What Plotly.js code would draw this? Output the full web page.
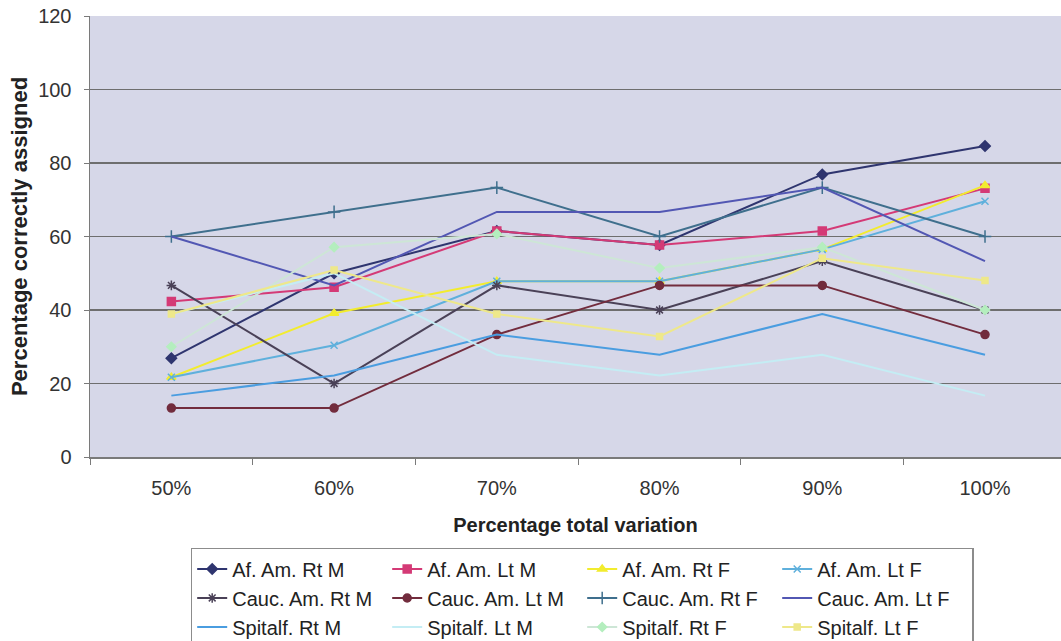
<!DOCTYPE html>
<html>
<head>
<meta charset="utf-8">
<script src="https://cdn.plot.ly/plotly-3.0.1.min.js"></script>
<style>
html,body{margin:0;padding:0;background:#fff;}
#chart{width:1061px;height:641px;}
</style>
</head>
<body>
<div id="chart"></div>
<script>
const categories = ['50%', '60%', '70%', '80%', '90%', '100%'];
const seriesNames = ['Af. Am. Rt M', 'Af. Am. Lt M', 'Af. Am. Rt F', 'Af. Am. Lt F',
  'Cauc. Am. Rt M', 'Cauc. Am. Lt M', 'Cauc. Am. Rt F', 'Cauc. Am. Lt F',
  'Spitalf. Rt M', 'Spitalf. Lt M', 'Spitalf. Rt F', 'Spitalf. Lt F'];
const afAmRtM = [26.9, 50.0, 61.5, 57.7, 76.9, 84.6];
const afAmLtM = [42.3, 46.2, 61.5, 57.7, 61.5, 73.1];
const afAmRtF = [21.7, 39.1, 47.8, 47.8, 56.5, 73.9];
const afAmLtF = [21.7, 30.4, 47.8, 47.8, 56.5, 69.6];
const caucRtM = [46.7, 20.0, 46.7, 40.0, 53.3, 40.0];
const caucLtM = [13.3, 13.3, 33.3, 46.7, 46.7, 33.3];
const caucRtF = [60.0, 66.7, 73.3, 60.0, 73.3, 60.0];
const caucLtF = [60.0, 46.7, 66.7, 66.7, 73.3, 53.3];
const spitRtM = [16.7, 22.2, 33.3, 27.8, 38.9, 27.8];
const spitLtM = [38.9, 50.0, 27.8, 22.2, 27.8, 16.7];
const spitRtF = [30.0, 57.1, 60.7, 51.4, 57.1, 40.0];
const spitLtF = [38.9, 50.9, 38.9, 32.8, 54.1, 48.0];
const yTicks = [0, 20, 40, 60, 80, 100, 120];

const allValues = [afAmRtM, afAmLtM, afAmRtF, afAmLtF, caucRtM, caucLtM,
  caucRtF, caucLtF, spitRtM, spitLtM, spitRtF, spitLtF];
const colors = ['#2f356f', '#d43a76', '#f2ec2e', '#5fb0dc', '#4a4157', '#722c3d',
  '#3f6f8d', '#5257b3', '#4a9de0', '#c2eef5', '#b4eebe', '#eee88a'];
const lineColors = ['#2f356f', '#d43a76', '#f2ec2e', '#5fb0dc', '#4a4157', '#722c3d',
  '#3f6f8d', '#5257b3', '#4a9de0', '#c4edf4', '#cde6d6', '#eee88a'];
const symbols = ['diamond', 'square', 'triangle-up', 'x-thin-open', 'asterisk-open', 'circle',
  'cross-thin-open', 'line-ew-open', 'line-ew-open', 'line-ew-open', 'diamond', 'square'];
const msizes = [8, 8, 8, 7, 8, 8, 9, 1, 1, 1, 7, 6];

const traces = allValues.map((vals, i) => ({
  type: 'scatter',
  mode: msizes[i] > 1 ? 'lines+markers' : 'lines',
  name: seriesNames[i],
  x: categories,
  y: vals,
  line: {color: lineColors[i], width: 2},
  marker: {symbol: symbols[i], size: msizes[i], color: colors[i],
           line: {color: colors[i], width: 1.5}}
}));

const layout = {
  width: 1061, height: 641,
  paper_bgcolor: '#ffffff',
  plot_bgcolor: '#d6d7e8',
  margin: {l: 90, r: 0, t: 16, b: 184},
  font: {family: '"Liberation Sans", Arial, sans-serif', size: 20, color: '#333333'},
  showlegend: true,
  xaxis: {
    type: 'category',
    categoryorder: 'array', categoryarray: categories,
    range: [-0.5, 5.467],
    automargin: false,
    showgrid: false, zeroline: false,
    showline: true, linecolor: '#7a7a7a', linewidth: 1.5,
    ticks: 'outside', tickson: 'boundaries', ticklen: 6, tickcolor: '#7a7a7a',
    ticklabelstandoff: 12,
    tickfont: {size: 20, color: '#333333'},
    title: {text: 'Percentage total variation', font: {size: 20, color: '#222222', weight: 'bold'}, standoff: 20}
  },
  yaxis: {
    range: [0, 120], tickvals: yTicks, ticktext: yTicks.map(String),
    automargin: false,
    showgrid: true, gridcolor: '#6e6e6e', gridwidth: 1.5,
    zeroline: false,
    showline: true, linecolor: '#7a7a7a', linewidth: 1.5,
    ticks: 'outside', ticklen: 5, tickcolor: '#7a7a7a',
    ticklabelstandoff: 8,
    tickfont: {size: 20, color: '#333333'},
    title: {text: 'Percentage correctly assigned', font: {size: 22, color: '#222222', weight: 'bold'}, standoff: 4}
  },
  legend: {
    orientation: 'h',
    xref: 'paper', yref: 'container',
    x: 0.1037, xanchor: 'left',
    y: 0.1451, yanchor: 'top',
    entrywidth: 150,
    bgcolor: '#ffffff', bordercolor: '#8c8c8c', borderwidth: 1.5,
    font: {size: 20, color: '#222222'},
    traceorder: 'normal'
  }
};

Plotly.newPlot('chart', traces, layout, {staticPlot: true});
</script>
</body>
</html>
